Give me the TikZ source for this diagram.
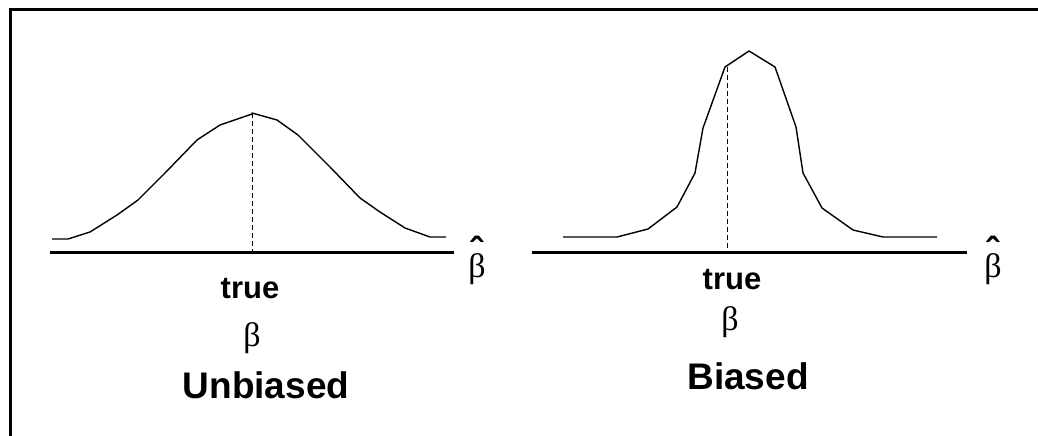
\documentclass[tikz,border=0pt]{standalone}
\usepackage{fontspec}
\setmainfont{Liberation Sans}
\newfontfamily\serifb{Liberation Serif}
\newcommand\hatbeta{\ooalign{β\cr\hidewidth\raisebox{13pt}{\fontsize{38}{38}\selectfont\rmfamily\bfseries\char"02C6}\hidewidth\cr}}
\begin{document}
\begin{tikzpicture}[x=1pt,y=-1pt,
  axisline/.style={line width=3pt},
  curveline/.style={line width=1.4pt, line join=round},
  dashline/.style={line width=1pt, dash pattern=on 5pt off 3pt},
  truelbl/.style={inner sep=0pt, anchor=base, font=\fontsize{31}{31}\selectfont\bfseries},
  betalbl/.style={inner sep=0pt, anchor=base, font=\fontsize{34}{34}\selectfont\serifb},
  titlelbl/.style={inner sep=0pt, anchor=base, font=\fontsize{37}{37}\selectfont\bfseries}]
\useasboundingbox (0,0) rectangle (1038,436);
% frame (top and left edges)
\draw[line width=3pt] (10.5,436) -- (10.5,9.5) -- (1038,9.5);

% ---------- left panel: unbiased ----------
\coordinate (la0) at (50,252);
\coordinate (la1) at (454,252);
\draw[axisline] (la0) -- (la1);
\draw[curveline] (52,239) -- (68,239) -- (90,232) -- (117,215) -- (138,200) -- (165,173)
  -- (197,140) -- (220,125) -- (252,114) -- (252,113) -- (277,120) -- (298,135) -- (330,167)
  -- (360,198) -- (380,212) -- (405,228) -- (430,237) -- (446,237);
\coordinate (lp) at (252,113);
\coordinate (lb) at (252,252);
\draw[dashline] (lp) -- (lb);
\node[truelbl] (ltrue) at (250,298) {true};
\node[betalbl] (lbeta) at (252,346) {β};
\node[titlelbl] (ltitle) at (266,398) {Unbiased};
\node[betalbl] (lhb) at (477,277) {\hatbeta};

% ---------- right panel: biased ----------
\coordinate (ra0) at (532,252);
\coordinate (ra1) at (967,252);
\draw[axisline] (ra0) -- (ra1);
\draw[curveline] (563,237) -- (617,237) -- (648,229) -- (677,207) -- (695,173) -- (703,128)
  -- (725,67) -- (749,51) -- (775,67) -- (796,127) -- (803,173) -- (822,208)
  -- (853,230) -- (883,237) -- (937,237);
\coordinate (rp) at (727,67);
\coordinate (rb) at (727,252);
\draw[dashline] (rp) -- (rb);
\node[truelbl] (rtrue) at (732,289) {true};
\node[betalbl] (rbeta) at (730,330) {β};
\node[titlelbl] (rtitle) at (748,389) {Biased};
\node[betalbl] (rhb) at (993,277) {\hatbeta};
\end{tikzpicture}
\end{document}
